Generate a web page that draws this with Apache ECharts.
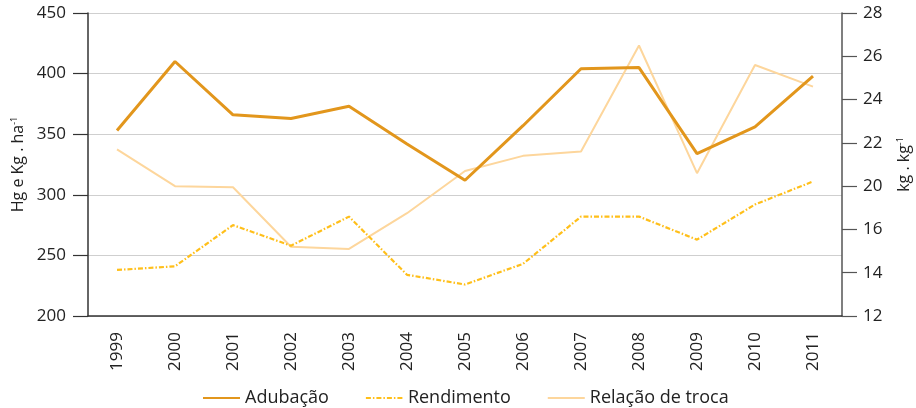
<!DOCTYPE html>
<html>
<head>
<meta charset="utf-8">
<script src="https://cdn.jsdelivr.net/npm/echarts@6/dist/echarts.min.js"></script>
<style>
    html, body { margin: 0; padding: 0; background: #fff; }
    #chart { width: 916px; height: 408px; }
</style>
</head>
<body>
<div id="chart"></div>
<script>
    // anos
    const years = ['1999','2000','2001','2002','2003','2004','2005','2006','2007','2008','2009','2010','2011'];
    // eixo esquerdo (Hg e Kg . ha-1)
    const adubacao = [353, 410, 366, 363, 373, 342, 312, 357, 404, 405, 334, 356, 398];
    const rendimento = [238, 241, 275, 258, 282, 234, 226, 243, 282, 282, 263, 292, 311];
    // eixo direito (kg . kg-1)
    const relacaoTroca = [21.7, 20.0, 19.9, 15.2, 15.1, 17.5, 20.7, 21.4, 21.6, 26.5, 20.6, 25.6, 24.6];
    // rótulos do eixo direito, como aparecem no original (sem o 18)
    const rightTicks = [12, 14, 16, 20, 22, 24, 26, 28];

    // posição do valor no eixo direito (trechos lineares entre os rótulos)
    function rightPos(v) {
        for (let i = 0; i < rightTicks.length - 1; i++) {
            if (v <= rightTicks[i + 1]) {
                return i + (v - rightTicks[i]) / (rightTicks[i + 1] - rightTicks[i]);
            }
        }
        return rightTicks.length - 1;
    }

    const font = '"Open Sans", "Noto Sans", sans-serif';
    const chart = echarts.init(document.getElementById('chart'));

    const option = {
        animation: false,
        textStyle: { fontFamily: font },
        grid: { left: 88, right: 74, top: 13, bottom: 92, outerBoundsMode: 'none' },
        legend: {
            top: 384,
            left: 197,
            itemWidth: 37,
            itemHeight: 10,
            itemGap: 36,
            itemStyle: { opacity: 0 },
            textStyle: { fontSize: 18, color: '#222', fontFamily: font },
            data: ['Adubação', 'Rendimento', 'Relação de troca']
        },
        xAxis: {
            type: 'category',
            data: years,
            axisLine: { lineStyle: { color: '#333', width: 1.5 } },
            axisTick: { length: 15, lineStyle: { color: '#333', width: 1.2 } },
            axisLabel: { rotate: 90, fontSize: 17, color: '#222', margin: 16 }
        },
        yAxis: [
            {
                type: 'value',
                min: 200,
                max: 450,
                interval: 50,
                name: 'Hg e Kg . ha{sup|-1}',
                nameLocation: 'middle',
                nameGap: 61,
                nameRotate: 90,
                nameTextStyle: {
                    fontSize: 16,
                    color: '#222',
                    rich: { sup: { fontSize: 9, verticalAlign: 'top', color: '#222', padding: [0, 0, 8, 0] } }
                },
                axisLine: { show: true, lineStyle: { color: '#333', width: 1.5 } },
                axisTick: { show: true, length: 15, lineStyle: { color: '#333', width: 1.2 } },
                axisLabel: { fontSize: 17, color: '#222', margin: 22 },
                splitLine: { lineStyle: { color: '#cfcfcf', width: 1.2 } }
            },
            {
                type: 'value',
                min: 0,
                max: rightTicks.length - 1,
                interval: 1,
                position: 'right',
                name: 'kg . kg{sup|-1}',
                nameLocation: 'middle',
                nameGap: 54,
                nameRotate: 90,
                nameTextStyle: {
                    fontSize: 16,
                    color: '#222',
                    rich: { sup: { fontSize: 9, verticalAlign: 'top', color: '#222', padding: [0, 0, 8, 0] } }
                },
                axisLine: { show: true, lineStyle: { color: '#555', width: 1.5 } },
                axisTick: { show: true, length: 15, lineStyle: { color: '#555', width: 1.2 } },
                axisLabel: {
                    fontSize: 17,
                    color: '#222',
                    margin: 21,
                    formatter: (v) => String(rightTicks[Math.round(v)])
                },
                splitLine: { show: false }
            }
        ],
        series: [
            {
                name: 'Adubação',
                type: 'line',
                data: adubacao,
                yAxisIndex: 0,
                symbol: 'none',
                z: 4,
                itemStyle: { color: '#e2961c' },
                lineStyle: { color: '#e2961c', width: 3 }
            },
            {
                name: 'Rendimento',
                type: 'line',
                data: rendimento,
                yAxisIndex: 0,
                symbol: 'none',
                z: 3,
                itemStyle: { color: '#ffbf1a' },
                lineStyle: { color: '#ffbf1a', width: 2.2, type: [5, 2, 1.5, 2] }
            },
            {
                name: 'Relação de troca',
                type: 'line',
                data: relacaoTroca.map(rightPos),
                yAxisIndex: 1,
                symbol: 'none',
                z: 2,
                itemStyle: { color: '#fdd69c' },
                lineStyle: { color: '#fdd69c', width: 2 }
            }
        ]
    };

    chart.setOption(option);
</script>
</body>
</html>
